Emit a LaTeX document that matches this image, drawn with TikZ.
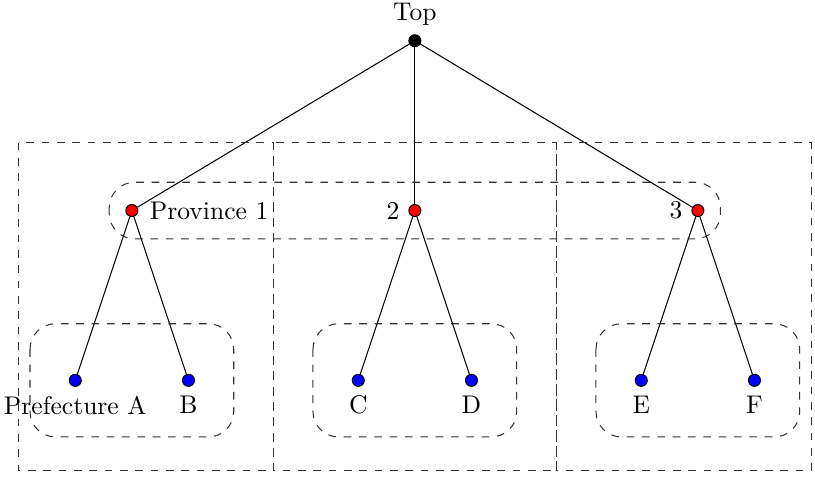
\documentclass[tikz,border=0pt]{standalone}
\usepackage{tikz}
\usetikzlibrary{positioning}

\begin{document}
\begin{tikzpicture}[
  x=0.778cm, y=0.778cm,
  dot/.style={circle, draw=black, fill=#1, inner sep=0pt, minimum size=0.165cm},
  region/.style={draw=black!80, dashed},
  groupbox/.style={draw=black!80, dashed, rounded corners=0.35cm},
  edgeline/.style={draw=black},
]
\useasboundingbox (-7.33,0.72) rectangle (7.07,-7.70);

% Root
\node[dot=black] (top) at (0, 0) {};
\node[above=0pt of top] (toplbl) {Top};

% Province level
\node[dot=red] (p1) at (-5, -3) {};
\node[dot=red] (p2) at (0, -3) {};
\node[dot=red] (p3) at (5, -3) {};
\node[right=1pt of p1] (p1lbl) {Province 1};
\node[left=0pt of p2] (p2lbl) {2};
\node[left=0pt of p3] (p3lbl) {3};

% Prefecture level
\node[dot=blue] (a) at (-6, -6) {};
\node[dot=blue] (b) at (-4, -6) {};
\node[dot=blue] (c) at (-1, -6) {};
\node[dot=blue] (d) at (1, -6) {};
\node[dot=blue] (e) at (4, -6) {};
\node[dot=blue] (f) at (6, -6) {};
\node[below=0pt of a] (albl) {Prefecture A};
\node[below=0pt of b] (blbl) {B};
\node[below=0pt of c] (clbl) {C};
\node[below=0pt of d] (dlbl) {D};
\node[below=0pt of e] (elbl) {E};
\node[below=0pt of f] (flbl) {F};

% Edges
\draw[edgeline] (top) -- (p1);
\draw[edgeline] (top) -- (p2);
\draw[edgeline] (top) -- (p3);
\draw[edgeline] (p1) -- (a);
\draw[edgeline] (p1) -- (b);
\draw[edgeline] (p2) -- (c);
\draw[edgeline] (p2) -- (d);
\draw[edgeline] (p3) -- (e);
\draw[edgeline] (p3) -- (f);

% Regions per province
\draw[region] (-7, -1.8) rectangle (-2.5, -7.6);
\draw[region] (-2.5, -1.8) rectangle (2.5, -7.6);
\draw[region] (2.5, -1.8) rectangle (7, -7.6);

% Level groupings
\draw[groupbox] (-5.4, -2.5) rectangle (5.4, -3.5);
\draw[groupbox] (-6.8, -5) rectangle (-3.2, -7);
\draw[groupbox] (-1.8, -5) rectangle (1.8, -7);
\draw[groupbox] (3.2, -5) rectangle (6.8, -7);

\end{tikzpicture}
\end{document}
